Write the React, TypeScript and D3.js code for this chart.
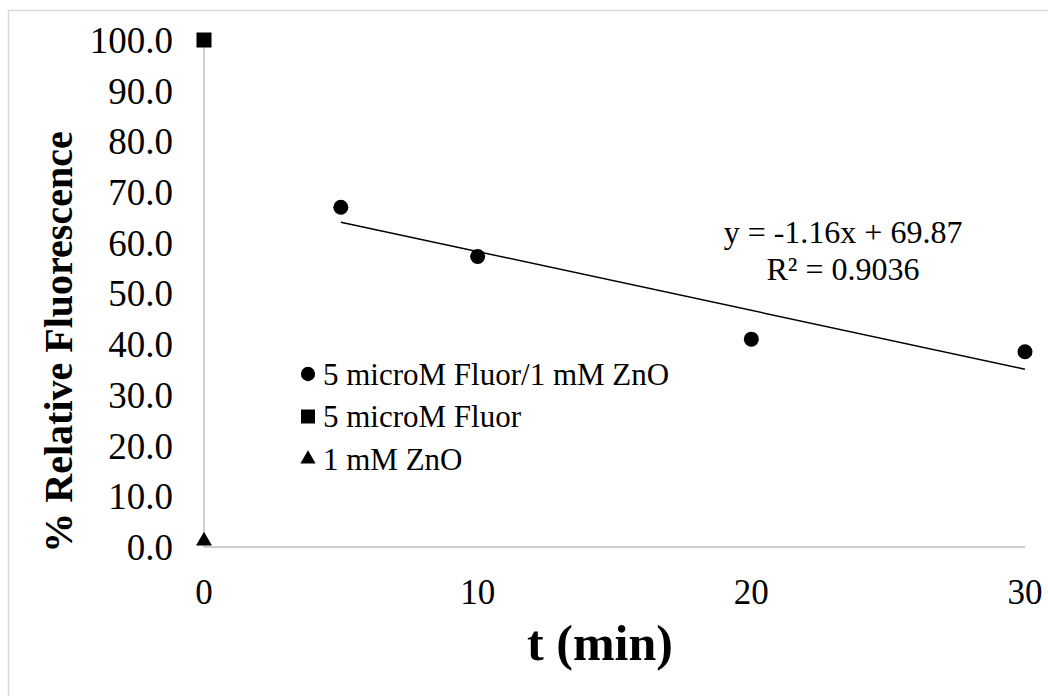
import React, { useEffect, useRef } from 'react';
import * as d3 from 'd3';

const fluorZnO = [
  { t: 5, v: 67.0 },
  { t: 10, v: 57.3 },
  { t: 20, v: 41.0 },
  { t: 30, v: 38.5 },
];
const fluorOnly = [{ t: 0, v: 100.0 }];
const znoOnly = [{ t: 0, v: 1.2 }];

const yTicks = [0, 10, 20, 30, 40, 50, 60, 70, 80, 90, 100];
const xTicks = [0, 10, 20, 30];

const slope = -1.16;
const intercept = 69.87;
const trendRange = [5, 30];

const legendItems = [
  { label: '5 microM Fluor/1 mM ZnO', shape: 'circle' },
  { label: '5 microM Fluor', shape: 'square' },
  { label: '1 mM ZnO', shape: 'triangle' },
];

const W = 1048;
const H = 696;
const margin = { top: 40, right: 23, bottom: 149, left: 204 };
const FONT = 'Liberation Serif';

const App = () => {
  const ref = useRef<SVGGElement | null>(null);

  useEffect(() => {
    const w = W - margin.left - margin.right;
    const h = H - margin.top - margin.bottom;
    const g = d3.select(ref.current);
    g.selectAll('*').remove();

    const x = d3.scaleLinear().domain([0, 30]).range([0, w]);
    const y = d3.scaleLinear().domain([0, 100]).range([h, 0]);

    // axes
    g.append('line')
      .attr('x1', 0).attr('x2', 0).attr('y1', 0).attr('y2', h)
      .attr('stroke', '#bfbfbf').attr('stroke-width', 1.5);
    g.append('line')
      .attr('x1', 0).attr('x2', w).attr('y1', h).attr('y2', h)
      .attr('stroke', '#bfbfbf').attr('stroke-width', 1.5);

    g.selectAll('.ytick')
      .data(yTicks)
      .join('text')
      .attr('class', 'ytick')
      .attr('x', -31)
      .attr('y', (d) => y(d))
      .attr('dy', '0.35em')
      .attr('text-anchor', 'end')
      .attr('font-size', 37)
      .text((d) => d.toFixed(1));

    g.selectAll('.xtick')
      .data(xTicks)
      .join('text')
      .attr('class', 'xtick')
      .attr('x', (d) => x(d))
      .attr('y', h + 57)
      .attr('text-anchor', 'middle')
      .attr('font-size', 35)
      .text((d) => d);

    // axis titles
    g.append('text')
      .attr('x', 396)
      .attr('y', h + 113)
      .attr('text-anchor', 'middle')
      .attr('font-size', 50)
      .attr('font-weight', 'bold')
      .text('t (min)');

    g.append('text')
      .attr('transform', `translate(${-132}, ${302}) rotate(-90)`)
      .attr('text-anchor', 'middle')
      .attr('font-size', 40)
      .attr('font-weight', 'bold')
      .text('% Relative Fluorescence');

    // trendline
    const line = d3
      .line<number>()
      .x((d) => x(d))
      .y((d) => y(slope * d + intercept));
    g.append('path')
      .datum(trendRange)
      .attr('d', line)
      .attr('fill', 'none')
      .attr('stroke', '#000')
      .attr('stroke-width', 1.5);

    // markers
    g.selectAll('.pt')
      .data(fluorZnO)
      .join('circle')
      .attr('class', 'pt')
      .attr('cx', (d) => x(d.t))
      .attr('cy', (d) => y(d.v))
      .attr('r', 7.5)
      .attr('fill', '#000');

    g.selectAll('.sq')
      .data(fluorOnly)
      .join('path')
      .attr('class', 'sq')
      .attr('transform', (d) => `translate(${x(d.t)}, ${y(d.v)})`)
      .attr('d', d3.symbol(d3.symbolSquare, 225)())
      .attr('fill', '#000');

    g.selectAll('.tri')
      .data(znoOnly)
      .join('path')
      .attr('class', 'tri')
      .attr('transform', (d) => `translate(${x(d.t)}, ${y(d.v)})`)
      .attr('d', d3.symbol(d3.symbolTriangle, 110)())
      .attr('fill', '#000');

    // equation
    const eq = g.append('text')
      .attr('text-anchor', 'middle')
      .attr('font-size', 32);
    eq.append('tspan').attr('x', x(23.35)).attr('y', y(59.96)).text('y = -1.16x + 69.87');
    eq.append('tspan').attr('x', x(23.35)).attr('y', y(52.66)).text('R² = 0.9036');

    // legend
    const lg = g.append('g').attr('transform', `translate(104, 334)`);
    legendItems.forEach((item, i) => {
      const row = lg.append('g').attr('transform', `translate(0, ${i * 42.5})`);
      const sym =
        item.shape === 'circle'
          ? d3.symbolCircle
          : item.shape === 'square'
          ? d3.symbolSquare
          : d3.symbolTriangle;
      const size = item.shape === 'circle' ? 160 : item.shape === 'square' ? 196 : 100;
      row.append('path').attr('d', d3.symbol(sym, size)()).attr('fill', '#000');
      row.append('text')
        .attr('x', 15)
        .attr('dy', '0.35em')
        .attr('font-size', 31)
        .text(item.label);
    });
  }, []);

  return (
    <svg
      width={W}
      height={H}
      fontFamily={FONT}
      style={{ position: 'absolute', left: 0, top: 0, background: '#fff' }}
    >
      <rect x={8.5} y={10.5} width={W} height={H} fill="#fff" stroke="#d9d9d9" strokeWidth={1.5} />
      <g ref={ref} transform={`translate(${margin.left}, ${margin.top})`} />
    </svg>
  );
};

export default App;
